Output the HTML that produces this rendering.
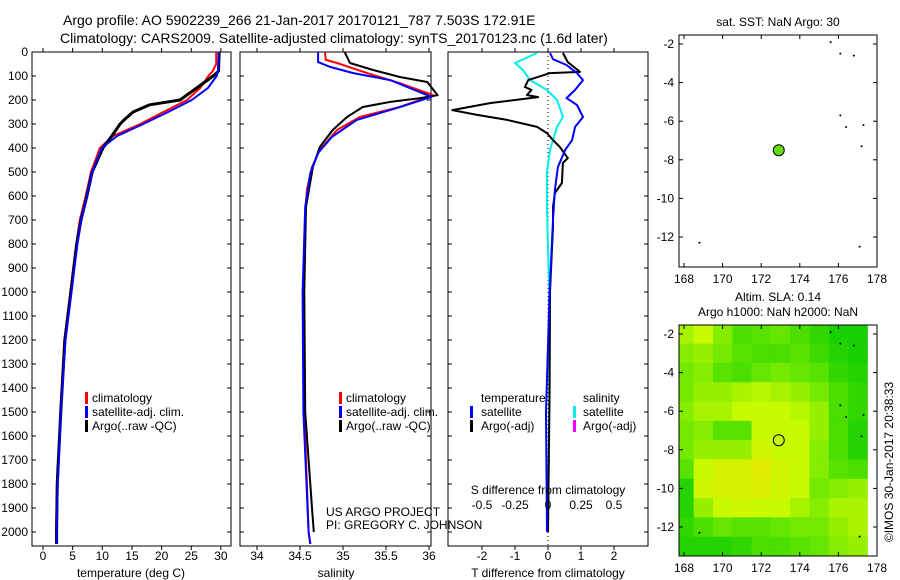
<!DOCTYPE html>
<html><head><meta charset="utf-8"><style>
html,body{margin:0;padding:0;background:#fff;}
svg{display:block;font-family:"Liberation Sans",sans-serif;}
</style></head><body>
<svg id="c" width="900" height="580" viewBox="0 0 900 580" xmlns="http://www.w3.org/2000/svg">
<text x="63" y="25" font-size="14">Argo profile: AO 5902239_266 21-Jan-2017 20170121_787 7.503S 172.91E</text>
<text x="60" y="43" font-size="14">Climatology: CARS2009. Satellite-adjusted climatology: synTS_20170123.nc (1.6d later)</text>
<g id="g"></g>
</svg>
<script>
// ---- data ----
const tDepth = [0,50,80,100,150,200,250,300,350,400,500,600,700,800,900,1000,1200,1500,1800,2000,2050];
const tClim  = [29.2,29.2,28.6,27.9,26.5,24.3,20.3,16.4,11.8,9.6,8.1,7.2,6.2,5.6,5.1,4.6,3.6,2.9,2.4,2.2,2.2];
const tSat   = [29.6,29.6,29.5,29.3,27.8,25.1,21.1,16.9,12.5,9.9,8.3,7.4,6.4,5.8,5.3,4.8,3.8,3.0,2.5,2.3,2.3];
const tArgoDepth = [0,80,100,150,200,220,250,280,300,350,400,500,600,700,800,900,1000,1200,1500,1800,2000,2050];
const tArgo  = [29.7,29.6,28.7,25.9,23.1,18.0,15.2,13.8,13.0,11.6,10.1,8.3,7.4,6.4,5.7,5.2,4.7,3.7,3.0,2.4,2.3,2.3];

const sClimDepth = [0,33,46,88,130,180,229,270,325,408,479,575,671,1000,1500,2000,2050];
const sClim = [34.79,34.8,34.93,35.28,35.66,36.05,35.66,35.2,34.93,34.73,34.64,34.58,34.56,34.54,34.55,34.6,34.62];
const sSatDepth = [0,42,62,88,117,187,233,283,354,421,504,646,1000,1500,2000,2050];
const sSat = [34.71,34.71,34.85,35.12,35.55,36.03,35.63,35.16,34.87,34.71,34.62,34.56,34.53,34.54,34.6,34.62];
const sArgoDepth = [0,46,75,104,125,180,192,208,229,270,325,396,479,646,1000,1500,1900,2000];
const sArgo = [35.02,35.08,35.35,35.66,35.98,36.1,35.9,35.55,35.23,35.05,34.88,34.73,34.65,34.57,34.55,34.56,34.64,34.66];

const dTArgoDepth = [4,42,83,88,117,146,158,179,188,213,242,262,283,312,338,367,396,442,462,546,588,646,729,1000,1400,2000];
const dTArgo = [0.45,0.6,0.97,0.06,-0.6,-0.7,-0.5,-0.64,-0.3,-1.76,-2.9,-2.15,-1.24,-0.33,-0.03,0.15,0.36,0.6,0.45,0.42,0.21,0.15,0.15,0.06,0.05,0.0];
const dTSatDepth = [4,30,54,88,117,158,192,221,271,312,367,408,479,575,700,1000,1500,2000];
const dTSat = [0.06,0.15,0.56,0.88,1.06,0.82,0.56,0.88,1.06,0.82,0.73,0.52,0.3,0.21,0.15,0.05,-0.06,-0.03];
const dSSatDepth = [4,46,75,117,158,200,271,312,408,504,646,1000,1500,2000];
const dSSat = [-0.083,-0.25,-0.19,-0.136,-0.008,0.068,0.114,0.068,0.015,-0.008,-0.008,0.01,0.01,0.0];

const depthTicks = [0,100,200,300,400,500,600,700,800,900,1000,1100,1200,1300,1400,1500,1600,1700,1800,1900,2000];
const tempTicks = [0,5,10,15,20,25,30];
const salTicks = [34,34.5,35,35.5,36];
const dTTicks = [-2,-1,0,1,2];
const dSTicks = [-0.5,-0.25,0,0.25,0.5];
const lonTicks = [168,170,172,174,176,178];
const latTicks = [-2,-4,-6,-8,-10,-12];

const argoLon = 172.91, argoLat = -7.503;
const dotLon = [175.6,176.1,176.8,176.1,176.4,177.3,177.2,168.8,177.1];
const dotLat = [-1.9,-2.5,-2.6,-5.7,-6.3,-6.2,-7.3,-12.3,-12.5];
const slaGrid = [
 [0.6,0.7,0.5,0.3,0.35,0.4,0.3,0.2,0.1,0.1],
 [0.5,0.55,0.45,0.35,0.3,0.3,0.35,0.25,0.15,0.1],
 [0.45,0.5,0.35,0.3,0.4,0.45,0.4,0.35,0.2,0.15],
 [0.45,0.55,0.55,0.6,0.65,0.6,0.55,0.45,0.3,0.2],
 [0.5,0.6,0.6,0.7,0.7,0.7,0.65,0.55,0.3,0.2],
 [0.45,0.5,0.35,0.35,0.7,0.7,0.7,0.55,0.3,0.15],
 [0.45,0.55,0.55,0.55,0.75,0.7,0.7,0.5,0.3,0.15],
 [0.35,0.7,0.8,0.8,0.9,0.75,0.7,0.5,0.35,0.3],
 [0.15,0.75,0.8,0.8,0.85,0.75,0.7,0.45,0.5,0.55],
 [0.15,0.55,0.7,0.75,0.7,0.7,0.6,0.5,0.6,0.6],
 [0.2,0.3,0.4,0.35,0.35,0.4,0.45,0.45,0.55,0.6],
 [0.15,0.15,0.15,0.2,0.3,0.3,0.35,0.4,0.5,0.55]
];

// ---- helpers ----
const NS="http://www.w3.org/2000/svg";
const G=document.getElementById('g');
function mk(tag,attrs,parent){const e=document.createElementNS(NS,tag);for(const k in attrs)e.setAttribute(k,attrs[k]);(parent||G).appendChild(e);return e;}
function txt(x,y,s,size,anchor,name){const e=mk('text',{x:x,y:y,'font-size':size,'text-anchor':anchor||'start'});e.textContent=s;


return e;}
const yD=d=>52+d*0.24;
const xT=t=>43+t*5.93;
const xS=s=>257+(s-34)*86;
const xDT=t=>548+t*33;
const xDS=s=>548+s*132;

function box(x0,y0,x1,y1,name){const r=mk('rect',{x:x0,y:y0,width:x1-x0,height:y1-y0,fill:'none',stroke:'#000','stroke-width':1});

}
function line(xs,ds,xf,color,w,name){
 let p='';for(let i=0;i<xs.length;i++)p+=(i?'L':'M')+xf(xs[i]).toFixed(1)+','+yD(ds[i]).toFixed(1);
 const e=mk('path',{d:p,fill:'none',stroke:color,'stroke-width':w,'stroke-linejoin':'round'});
 
 
}
function yticks(x0,x1,labels){
 depthTicks.forEach(d=>{const y=yD(d);
  mk('line',{x1:x0,y1:y,x2:x0+4,y2:y,stroke:'#000'});mk('line',{x1:x1,y1:y,x2:x1-4,y2:y,stroke:'#000'});
  if(labels)txt(x0-4,y+4,String(d),12,'end','depth-tick-label');});
}
function xticks(vals,xf,y0,y1,lab,labY,name){
 vals.forEach(v=>{const x=xf(v);
  mk('line',{x1:x,y1:y0,x2:x,y2:y0+4,stroke:'#000'});mk('line',{x1:x,y1:y1,x2:x,y2:y1-4,stroke:'#000'});
  if(lab)txt(x,labY,String(v),12,'middle',name);});
}
function legMark(x,y,color){const e=mk('rect',{x:x,y:y-10,width:3,height:12,fill:color});
 
 }

// ---- panel 1: temperature ----
box(32,52,231,546,'temperature-panel');
yticks(32,231,true);
xticks(tempTicks,xT,546,52,true,560,'temperature-tick-label');
line(tClim,tDepth,xT,'#ff0000',2,'temperature-climatology-line');
line(tArgo,tArgoDepth,xT,'#000000',3,'temperature-argo-line');
line(tSat,tDepth,xT,'#0000ff',2,'temperature-satellite-line');
txt(131,577,'temperature (deg C)',12,'middle','temperature-axis-title');
legMark(85,402,'#ff0000');txt(92,402,'climatology',12,'start','legend-climatology');
legMark(85,416,'#0000ff');txt(92,416,'satellite-adj. clim.',12,'start','legend-satellite');
legMark(85,430,'#000');txt(92,430,'Argo(..raw -QC)',12,'start','legend-argo');

// ---- panel 2: salinity ----
box(240,52,431,546,'salinity-panel');
yticks(240,431,false);
xticks(salTicks,xS,546,52,true,560,'salinity-tick-label');
line(sClim,sClimDepth,xS,'#ff0000',2,'salinity-climatology-line');
line(sArgo,sArgoDepth,xS,'#000000',2,'salinity-argo-line');
line(sSat,sSatDepth,xS,'#0000ff',2,'salinity-satellite-line');
txt(336,577,'salinity',12,'middle','salinity-axis-title');
legMark(339,402,'#ff0000');txt(346,402,'climatology',12,'start','legend-climatology-2');
legMark(339,416,'#0000ff');txt(346,416,'satellite-adj. clim.',12,'start','legend-satellite-2');
legMark(339,430,'#000');txt(346,430,'Argo(..raw -QC)',12,'start','legend-argo-2');
txt(326,516,'US ARGO PROJECT',12,'start','credit-project');
txt(326,529,'PI: GREGORY C. JOHNSON',12,'start','credit-pi');

// ---- panel 3: differences ----
box(448,52,648,546,'difference-panel');
yticks(448,648,false);
xticks(dTTicks,xDT,546,52,true,560,'t-difference-tick-label');
mk('line',{x1:548,y1:52,x2:548,y2:546,stroke:'#000','stroke-dasharray':'1,3'});
line(dSSat,dSSatDepth,xDS,'#00eeee',2,'salinity-difference-satellite-line');
line(dTArgo,dTArgoDepth,xDT,'#000000',2,'temperature-difference-argo-line');
line(dTSat,dTSatDepth,xDT,'#0000ff',2,'temperature-difference-satellite-line');
dSTicks.forEach(v=>txt(xDS(v),509,String(v),12,'middle','s-difference-tick-label'));
txt(548,494,'S difference from climatology',12,'middle','s-difference-axis-title');
txt(548,577,'T difference from climatology',12,'middle','t-difference-axis-title');
txt(481,402,'temperature',12,'start','legend-temperature-header');
txt(583,402,'salinity',12,'start','legend-salinity-header');
legMark(470,416,'#0000ff');txt(481,416,'satellite',12,'start','legend-t-satellite');
legMark(470,430,'#000');txt(481,430,'Argo(-adj)',12,'start','legend-t-argo');
legMark(573,416,'#00eeee');txt(583,416,'satellite',12,'start','legend-s-satellite');
legMark(573,430,'#ff00ff');txt(583,430,'Argo(-adj)',12,'start','legend-s-argo');

// ---- maps ----
const xL=lon=>684+(lon-168)*19.3;
function drawMap(top,y0,y1,name,heat){
 const yL=lat=>top+(-2-lat)*19.3;
 if(heat){
  slaGrid.forEach((row,r)=>row.forEach((v,c)=>{
   const stops=[[0,[0,200,0]],[0.4,[100,230,0]],[0.7,[200,250,0]],[1,[240,230,0]]];
   let k=0;while(k<stops.length-2&&v>stops[k+1][0])k++;
   const f=(v-stops[k][0])/(stops[k+1][0]-stops[k][0]);
   const col=stops[k][1].map((a,i)=>Math.round(a+(stops[k+1][1][i]-a)*f));
   const x0=Math.max(679,xL(167.5+c)),x1=Math.min(877,xL(168.5+c));
   const ya=Math.max(y0,yL(-1.5-r)),yb=Math.min(y1,yL(-2.5-r));
   const e=mk('rect',{x:x0,y:ya,width:x1-x0+0.5,height:yb-ya+0.5,fill:'rgb('+col.join(',')+')'});
   
   
  }));
 }
 box(679,y0,877,y1,name);
 lonTicks.forEach(v=>{const x=xL(v);mk('line',{x1:x,y1:y0,x2:x,y2:y0+4,stroke:'#000'});mk('line',{x1:x,y1:y1,x2:x,y2:y1-4,stroke:'#000'});
  txt(x,y1+16,String(v),12,'middle','longitude-tick-label');});
 latTicks.forEach(v=>{const y=yL(v);mk('line',{x1:679,y1:y,x2:683,y2:y,stroke:'#000'});mk('line',{x1:877,y1:y,x2:873,y2:y,stroke:'#000'});
  txt(674,y+4,String(v),12,'end','latitude-tick-label');});
 dotLon.forEach((lo,i)=>{const e=mk('circle',{cx:xL(lo),cy:yL(dotLat[i]),r:1,fill:'#000'});
  
  });
 const c=mk('circle',{cx:xL(argoLon),cy:yL(argoLat),r:5.5,fill:heat?'none':'#66dd11',stroke:'#000','stroke-width':1});
 
 
}
drawMap(44,35,267,'sst-map',false);
txt(778,26,'sat. SST: NaN Argo: 30',12,'middle','sst-map-title');
drawMap(334,325,556,'sla-map',true);
txt(778,301,'Altim. SLA: 0.14',12,'middle','sla-map-title');
txt(778,316,'Argo h1000: NaN h2000: NaN',12,'middle','sla-map-subtitle');
const r=txt(0,0,'©IMOS 30-Jan-2017 20:38:33',12,'middle','imos-credit');
r.setAttribute('transform','translate(893,462) rotate(-90)');
</script>
</body></html>
